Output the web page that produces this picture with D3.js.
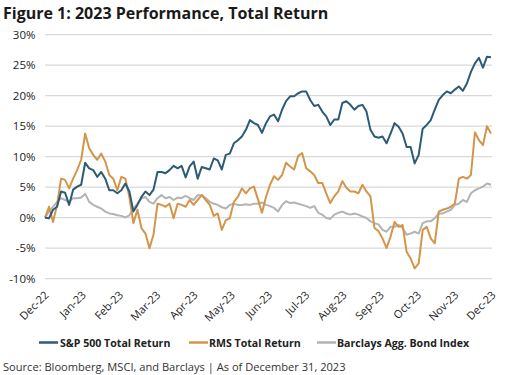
<!DOCTYPE html>
<html>
<head>
<meta charset="utf-8">
<script src="https://cdn.jsdelivr.net/npm/d3@7/dist/d3.min.js"></script>
<style>
  html, body { margin: 0; padding: 0; background: #fff; }
  svg { display: block; }
  text { font-family: "Open Sans", "Noto Sans", sans-serif; }
</style>
</head>
<body>
<svg id="chart" width="516" height="375"></svg>
<script>
// ---- Data (percent total return, sampled through 2023) ----
const monthLabels = ["Dec-22","Jan-23","Feb-23","Mar-23","Apr-23","May-23","Jun-23","Jul-23","Aug-23","Sep-23","Oct-23","Nov-23","Dec-23"];
const yTicks = [-10, -5, 0, 5, 10, 15, 20, 25, 30];

const sp500 = [
  0, -0.1, 1.3, 1.8, 4.3, 4.1, 2.1, 4.6, 5.1, 5.4, 9.0, 8.1, 7.8, 6.7, 7.5, 6.4, 4.5, 4.5, 4.0, 4.5, 5.6, 4.3, 1.0, 2.1, 3.4, 4.3, 3.7, 4.6, 7.5,
  7.5, 7.3, 7.8, 8.5, 8.1, 8.5, 6.6, 8.4, 9.2, 6.4, 8.3, 8.1, 7.9, 9.7, 9.4, 7.9, 10.3, 10.5, 12.2, 12.7, 13.3, 14.4, 16.0, 15.5, 15.2, 13.9, 15.5,
  16.6, 16.9, 15.8, 17.7, 19.1, 19.9, 19.9, 20.4, 20.7, 20.7, 19.3, 18.3, 18.5, 17.4, 16.6, 15.2, 16.1, 16.1, 18.8, 19.1, 18.5, 17.7, 18.3, 18.5, 17.4, 14.4, 13.3, 13.1,
  13.3, 12.2, 13.8, 15.5, 14.9, 13.8, 11.6, 11.6, 8.9, 10.3, 14.6, 15.2, 16.0, 17.7, 19.3, 20.1, 20.7, 20.4, 21.0, 21.5, 20.8, 22.0, 23.9, 25.3, 26.2, 24.6, 26.4, 26.3
];

const rms = [
  0, 1.8, -0.7, 2.1, 6.4, 6.2, 4.8, 6.4, 7.8, 9.5, 13.8, 11.4, 10.3, 9.5, 10.5, 9.2, 7.0, 6.4, 4.5, 6.7, 6.4, 3.4, -0.9, 1.3, -1.7, -2.6, -5.0, -2.8, 2.3,
  2.1, 1.8, 2.3, -0.1, 2.3, 2.1, 1.8, 2.9, 2.1, 2.9, 3.7, 2.9, 2.1, 0.3, 0.7, -2.0, -0.4, -0.1, 2.6, 3.4, 4.8, 4.0, 4.8, 5.1, 3.0, 0.8, 3.4,
  5.4, 6.8, 6.2, 7.0, 9.0, 8.4, 7.9, 10.1, 10.6, 8.1, 7.6, 7.0, 5.7, 5.7, 4.0, 2.4, 3.5, 4.3, 6.0, 4.9, 4.3, 4.3, 4.0, 5.4, 4.3, 3.5, -1.7, -2.2,
  -3.4, -5.0, -3.1, -0.7, -1.5, -1.2, -5.6, -6.7, -8.3, -7.5, -2.0, -1.5, -3.4, -4.2, 1.0, 1.3, 1.5, 1.8, 2.3, 6.4, 6.7, 6.4, 7.0, 14.0, 12.7, 11.9, 15.0, 13.8
];

const bond = [
  0, 1.0, 1.8, 2.6, 3.2, 2.9, 2.6, 3.2, 3.2, 3.3, 3.9, 2.6, 2.1, 1.8, 1.5, 1.0, 0.7, 0.6, 0.4, 0.3, 0.05, 0.4, 1.5, 2.3, 3.2, 3.4, 2.6, 2.3, 3.2,
  3.7, 3.2, 3.4, 2.9, 3.3, 3.2, 3.6, 3.2, 2.9, 3.7, 3.7, 3.2, 2.6, 2.3, 2.1, 1.7, 1.5, 2.1, 2.3, 2.1, 2.1, 2.2, 2.1, 2.3, 2.3, 2.5, 2.1,
  1.9, 1.6, 1.0, 2.1, 2.7, 2.4, 2.5, 2.3, 2.1, 1.9, 1.6, 1.9, 0.8, 0.5, -0.05, -0.2, 0.5, 0.8, 1.0, 0.7, 0.5, 0.7, 0.5, 0.2, -0.05, -0.6, -0.9, -1.1,
  -2.0, -2.3, -1.5, -1.5, -1.2, -1.7, -2.8, -2.6, -2.3, -2.6, -0.9, -0.6, -0.6, -0.1, 0.7, 0.7, 1.0, 1.3, 2.1, 2.3, 2.9, 2.6, 4.0, 4.5, 4.8, 5.1, 5.6, 5.4
];

const seriesNames = ["S&P 500 Total Return", "RMS Total Return", "Barclays Agg. Bond Index"];
const seriesColors = ["#2c5b76", "#d4954b", "#b3b3b3"];
const seriesData = [sp500, rms, bond];

// ---- Layout ----
const svg = d3.select("#chart");
const plotL = 45, plotR = 491, plotT = 34.7, plotB = 278.7;

const y = d3.scaleLinear().domain([-10, 30]).range([plotB, plotT]);
const xIdx = d3.scaleLinear().domain([0, sp500.length - 1]).range([plotL, plotR]);
const xCat = d3.scalePoint().domain(monthLabels).range([plotL, plotR + 1]);

// Title
svg.append("text")
  .attr("x", 3).attr("y", 19)
  .attr("font-size", 16).attr("font-weight", 700)
  .attr("fill", "#1a1a1a")
  .text("Figure 1: 2023 Performance, Total Return");

// Gridlines
svg.append("g").selectAll("line").data(yTicks).join("line")
  .attr("x1", plotL).attr("x2", plotR + 1)
  .attr("y1", d => y(d)).attr("y2", d => y(d))
  .attr("stroke", "#d9d9d9").attr("stroke-width", 1.3);

// Y axis labels
const yAxis = d3.axisLeft(y).tickValues(yTicks).tickSize(0).tickPadding(0)
  .tickFormat(d => d + "%");
const gy = svg.append("g").attr("transform", `translate(35.5,0)`).call(yAxis);
gy.select(".domain").remove();
gy.selectAll("text").attr("font-size", 11.5).attr("fill", "#222")
  .attr("font-family", "'Open Sans', sans-serif");

// X axis labels (rotated)
const xAxis = d3.axisBottom(xCat).tickSize(0).tickPadding(0);
const gx = svg.append("g").attr("transform", `translate(0,${plotB})`).call(xAxis);
gx.select(".domain").remove();
gx.selectAll(".tick text")
  .attr("font-size", 11).attr("fill", "#222")
  .attr("font-family", "'Open Sans', sans-serif")
  .attr("text-anchor", "end")
  .attr("dy", 0).attr("y", 0)
  .attr("transform", "translate(4,17) rotate(-45)");

// Lines (draw bond first, then RMS, then S&P on top)
const line = d3.line().x((d, i) => xIdx(i)).y(d => y(d));
[2, 1, 0].forEach(k => {
  svg.append("path")
    .datum(seriesData[k])
    .attr("d", line)
    .attr("fill", "none")
    .attr("stroke", seriesColors[k])
    .attr("stroke-width", 2)
    .attr("stroke-linejoin", "round");
});

// Legend
const legendItems = [
  { lx: 39, tx: 60 },
  { lx: 189, tx: 209 },
  { lx: 317, tx: 337 }
];
const lg = svg.append("g");
legendItems.forEach((p, k) => {
  lg.append("line")
    .attr("x1", p.lx).attr("x2", p.lx + 19)
    .attr("y1", 342.5).attr("y2", 342.5)
    .attr("stroke", seriesColors[k]).attr("stroke-width", 2.5);
  lg.append("text")
    .attr("x", p.tx).attr("y", 346.5)
    .attr("font-size", 10.6).attr("font-weight", 700).attr("fill", "#222")
    .text(seriesNames[k]);
});

// Source
svg.append("text")
  .attr("x", 3).attr("y", 370.5)
  .attr("font-size", 11.1).attr("fill", "#333")
  .text("Source: Bloomberg, MSCI, and Barclays | As of December 31, 2023");
</script>
</body>
</html>
